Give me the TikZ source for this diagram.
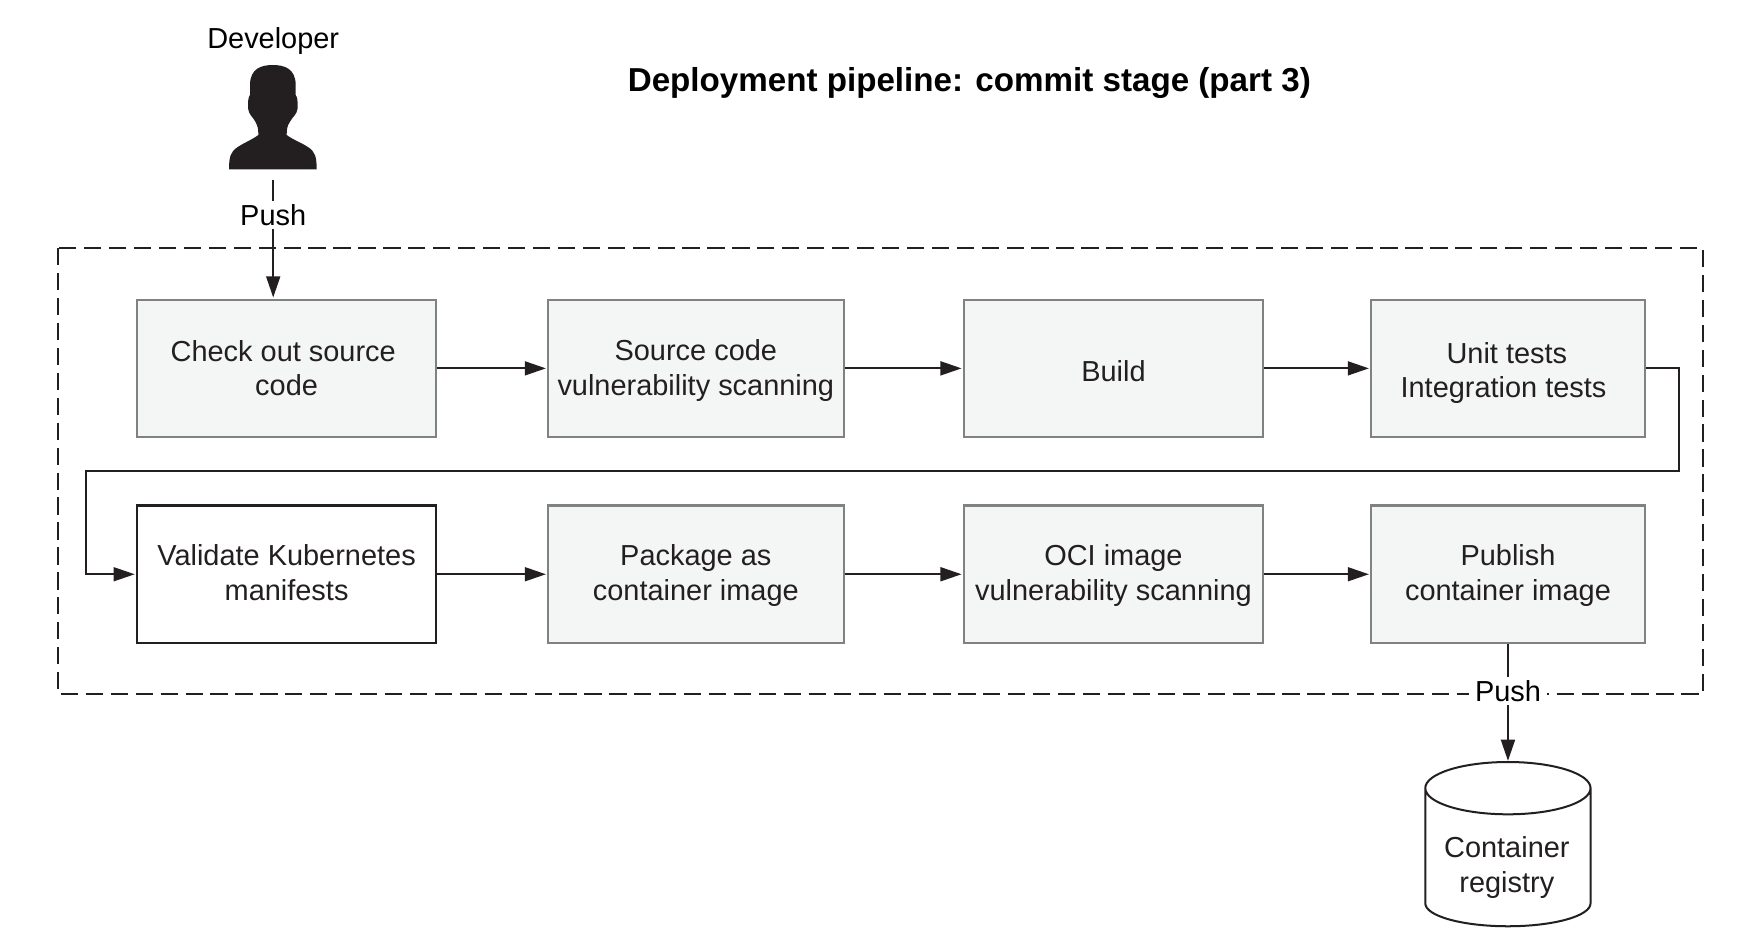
\documentclass[tikz,border=0pt]{standalone}
\usepackage{fontspec}
\setmainfont{Liberation Sans}
\usetikzlibrary{arrows.meta}
\definecolor{ink}{HTML}{231F20}
\definecolor{boxfill}{HTML}{F4F6F5}
\definecolor{boxline}{HTML}{7F8281}
\tikzset{
  x=1pt,y=-1pt,
  lab/.style={font=\fontsize{26}{31}\selectfont,text=ink,align=center,inner sep=0pt},
  stage/.style={lab,draw=boxline,fill=boxfill,line width=1.9pt,minimum height=123.5pt},
  stagenew/.style={lab,draw=ink,fill=white,line width=1.9pt,minimum height=123.5pt},
  conn/.style={draw=ink,line width=1.8pt,shorten >=1pt,-{Triangle[length=19pt,width=12.5pt]}},
  pushlab/.style={font=\fontsize{26}{31}\selectfont,text=black,fill=white,inner xsep=5pt,inner ysep=3pt},
  frame/.style={draw=ink,line width=1.8pt,dash pattern=on 15.5pt off 6.9pt}
}
\begin{document}
\begin{tikzpicture}
\useasboundingbox (0,0) rectangle (1568,854.5);
\fill[white] (0,0) rectangle (1568,854.5);
% frame
\path[frame] (52.5,223) rectangle (1530,624);
% title and developer
\node[font=\bfseries\fontsize{29.8}{35}\selectfont,inner sep=0pt] (title) at (871,75) {Deployment pipeline: commit stage (part 3)};
\node[font=\fontsize{26}{31}\selectfont,inner sep=0pt] (devname) at (245.5,36.5) {Developer};
\begin{scope}[shift={(134.8,0)},x=0.2995pt,y=-0.2995pt]
\fill[ink] (300,255) .. controls (300,205) and (335,195) .. (368,195)
  .. controls (402,195) and (437,205) .. (437,255) -- (437,285)
  .. controls (443,292) and (443,305) .. (443,325)
  .. controls (440,345) and (428,350) .. (420,365)
  .. controls (412,378) and (410,385) .. (410,405)
  .. controls (430,420) and (455,428) .. (475,442)
  .. controls (495,455) and (500,470) .. (500,508)
  -- (237,508)
  .. controls (237,470) and (242,455) .. (262,442)
  .. controls (282,428) and (305,420) .. (325,405)
  .. controls (325,385) and (323,378) .. (316,365)
  .. controls (308,350) and (297,345) .. (294,325)
  .. controls (294,305) and (294,292) .. (300,285) -- cycle;
\end{scope}
\coordinate (dev) at (245.5,162);
% stages
\node[stage,minimum width=269pt] (chk) at (257.5,331) {Check out source\hspace*{6pt}\\code};
\node[stage,minimum width=265.5pt] (scan) at (625.25,331) {\rule{0pt}{23pt}Source code\\vulnerability scanning};
\node[stage,minimum width=269pt] (build) at (1000.5,331) {\rule{0pt}{23pt}Build};
\node[stage,minimum width=246pt] (unit) at (1355,331) {\rule{0pt}{27pt}Unit tests\hspace*{2pt}\\Integration tests\hspace*{8pt}};
\node[stagenew,minimum width=269pt] (val) at (257.5,516) {\rule{0pt}{20pt}Validate Kubernetes\\manifests\rule[-4.4pt]{0pt}{0pt}};
\node[stage,minimum width=265.5pt] (pack) at (625.25,516) {\rule{0pt}{21pt}Package as\\container image};
\node[stage,minimum width=269pt] (oci) at (1000.5,516) {\rule{0pt}{21pt}OCI image\\vulnerability scanning};
\node[stage,minimum width=246pt] (pub) at (1355,516) {\rule{0pt}{21pt}Publish\\container image};
% registry
\coordinate (regtop) at (1355,684.7);
\draw[ink,line width=1.8pt,fill=white] (1280.7,708.2) arc[start angle=180,end angle=0,x radius=74.25,y radius=23.5]
  -- (1429.2,811.7) arc[start angle=0,end angle=180,x radius=74.25,y radius=20.6] -- cycle;
\draw[ink,line width=1.8pt] (1280.7,708.2) arc[start angle=180,end angle=360,x radius=74.25,y radius=23.5];
\node[lab] (reg) at (1354,779.5) {Container\\registry};
% connectors
\draw[conn] (dev) -- node[pushlab,pos=0.295] (push1) {Push} (dev |- chk.north);
\draw[conn] (chk) -- (scan);
\draw[conn] (scan) -- (build);
\draw[conn] (build) -- (unit);
\coordinate (elbr) at (1509,423.5);
\coordinate (elbl) at (77.5,423.5);
\draw[conn] (unit.east) -| (elbr) -- (elbl) |- (val.west);
\draw[conn] (val) -- (pack);
\draw[conn] (pack) -- (oci);
\draw[conn] (oci) -- (pub);
\draw[conn] (pub) -- node[pushlab,pos=0.40] (push2) {Push} (regtop);
\end{tikzpicture}
\end{document}
